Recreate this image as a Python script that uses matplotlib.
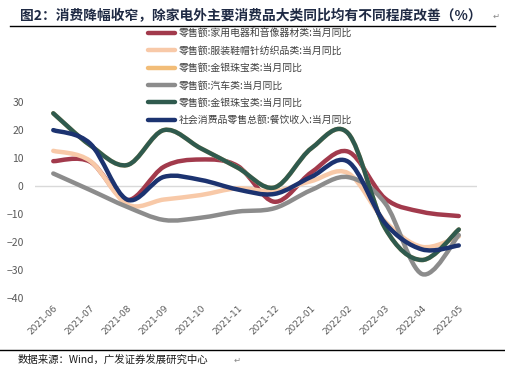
import matplotlib
matplotlib.use("Agg")
import matplotlib.pyplot as plt
import matplotlib.transforms as mtransforms
from matplotlib.path import Path
from matplotlib.patches import PathPatch
from matplotlib.lines import Line2D
import numpy as np

plt.rcParams['font.family'] = ['Noto Sans CJK SC', 'DejaVu Sans']

months = ['2021-06', '2021-07', '2021-08', '2021-09', '2021-10', '2021-11',
          '2021-12', '2022-01', '2022-02', '2022-03', '2022-04', '2022-05']

# values (%)
appliance = [8.9, 8.7, -5.0, 6.9, 9.5, 7.2, -5.6, 4.9, 12.3, -4.4, -9.2, -10.7]
clothing = [12.6, 9.0, -6.5, -4.8, -3.2, -0.8, -1.8, 1.8, 4.6, -12.6, -21.7, -18.0]
jewelry = [26.0, 14.6, 7.5, 20.0, 13.5, 6.6, -0.5, 13.5, 18.8, -15.0, -26.4, -15.5]
auto = [4.5, -1.4, -7.4, -12.1, -11.3, -9.1, -7.9, -1.4, 3.2, -6.1, -31.4, -17.5]
jewelry2 = [26.0, 14.6, 7.5, 20.0, 13.5, 6.6, -0.5, 13.5, 18.8, -15.0, -26.4, -15.5]
catering = [20.0, 15.2, -4.8, 3.3, 2.2, -1.2, -2.8, 3.3, 8.7, -13.2, -22.6, -21.2]

labels = ['零售额:家用电器和音像器材类:当月同比',
          '零售额:服装鞋帽针纺织品类:当月同比',
          '零售额:金银珠宝类:当月同比',
          '零售额:汽车类:当月同比',
          '零售额:金银珠宝类:当月同比',
          '社会消费品零售总额:餐饮收入:当月同比']
colors = ['#A23A4C', '#F8C9A8', '#F2BD78', '#8C8C8C', '#2F5A4E', '#1C3370']
series = [appliance, clothing, jewelry, auto, jewelry2, catering]


def smooth_path(ys):
    # excel-style smoothed line: catmull-rom turned into bezier segments
    pts = np.column_stack([np.arange(len(ys)), ys]).astype(float)
    verts = [pts[0]]
    codes = [Path.MOVETO]
    n = len(pts)
    for i in range(n - 1):
        p0 = pts[max(i - 1, 0)]
        p1 = pts[i]
        p2 = pts[i + 1]
        p3 = pts[min(i + 2, n - 1)]
        c1 = p1 + (p2 - p0) / 6.0
        c2 = p2 - (p3 - p1) / 6.0
        verts += [c1, c2, p2]
        codes += [Path.CURVE4] * 3
    return Path(verts, codes)


fig = plt.figure(figsize=(5.05, 3.74), dpi=100)
ax = fig.add_axes([0.069, 0.203, 0.876, 0.524])

ax.axhline(0, color='#D9D9D9', lw=1, zorder=1)
for ys, c in zip(series, colors):
    ax.add_patch(PathPatch(smooth_path(ys), facecolor='none', edgecolor=c,
                           lw=3.2, capstyle='round', joinstyle='round', zorder=2))

ax.set_xlim(-0.5, 11.5)
ax.set_ylim(-40, 30)
ax.set_yticks(range(-40, 31, 10))
ax.set_xticks(range(len(months)))
ax.set_xticklabels(months, rotation=45, ha='right', va='top',
                   rotation_mode='anchor', fontsize=6.5, color='#595959',
                   family='DejaVu Sans')
shift = mtransforms.ScaledTranslation(3 / 72, 0, fig.dpi_scale_trans)
for t in ax.get_xticklabels():
    t.set_transform(t.get_transform() + shift)
for t in ax.get_yticklabels():
    t.set_fontsize(7.5)
    t.set_color('#595959')
ax.tick_params(length=0)
ax.tick_params(axis='y', pad=8)
ax.tick_params(axis='x', pad=4)
for s in ax.spines.values():
    s.set_visible(False)

handles = [Line2D([], [], color=c, lw=3.2, solid_capstyle='round') for c in colors]
fig.legend(handles, labels, loc='upper left', bbox_to_anchor=(0.285, 0.935),
           frameon=False, fontsize=7.1, labelspacing=0.75, handlelength=2.8,
           handletextpad=0.3, borderaxespad=0, labelcolor='#404040')

fig.text(0.04, 0.958, '图2：消费降幅收窄，除家电外主要消费品大类同比均有不同程度改善（%）',
         fontsize=9.9, fontweight='bold', color='#1F2A44', va='center')
fig.text(0.976, 0.956, '↵', fontsize=6, color='#888888', va='center', family='DejaVu Sans')
fig.add_artist(Line2D([0.02, 0.98], [0.93, 0.93], color='black', lw=1))

fig.add_artist(Line2D([0.0, 1.0], [0.063, 0.063], color='black', lw=1))
fig.text(0.035, 0.037, '数据来源：Wind，广发证券发展研究中心', fontsize=7.5,
         color='#1A1A1A', va='center')
fig.text(0.463, 0.037, '↵', fontsize=6, color='#888888', va='center', family='DejaVu Sans')

fig.savefig('out.png', dpi=100)
